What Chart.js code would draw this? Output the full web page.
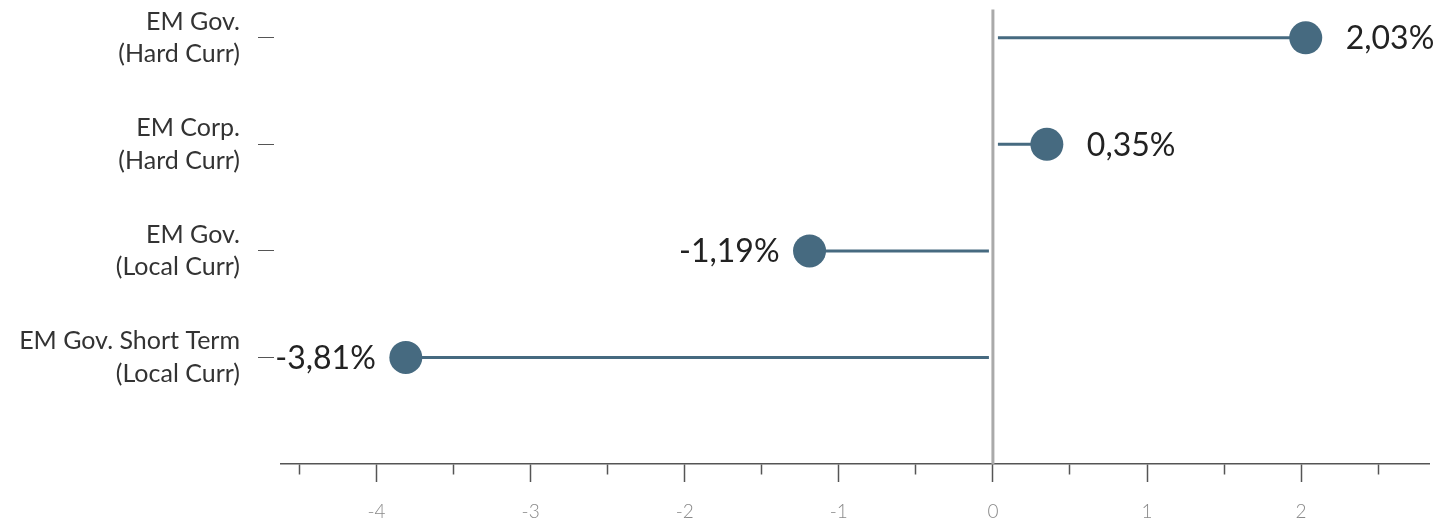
<!DOCTYPE html>
<html>
<head>
<meta charset="utf-8">
<script src="https://cdn.jsdelivr.net/npm/chart.js@4.4.1/dist/chart.umd.min.js"></script>
<style>
  html, body { margin: 0; padding: 0; background: #ffffff; }
  #wrap { position: relative; width: 1453px; height: 522px; }
  canvas { display: block; }
</style>
</head>
<body>
<div id="wrap"><canvas id="chart" width="1453" height="522"></canvas></div>
<script>
// Return by segment, in percent
const categories = [
  ['EM Gov.', '(Hard Curr)'],
  ['EM Corp.', '(Hard Curr)'],
  ['EM Gov.', '(Local Curr)'],
  ['EM Gov. Short Term', '(Local Curr)']
];
const returns = [2.03, 0.35, -1.19, -3.81];
const xTickValues = [-4.5, -4, -3.5, -3, -2.5, -2, -1.5, -1, -0.5, 0, 0.5, 1, 1.5, 2, 2.5];

const DOT = '#466a80';
const FONT = 'Lato, "Open Sans", sans-serif';
const ZERO_LINE_TOP = -0.265;   // zero line runs a little above the first row

const fmt = v => v.toFixed(2).replace('.', ',') + '%';

// Zero line, stems from it out to each dot, plus the value labels
const lollipop = {
  id: 'lollipop',
  beforeDatasetsDraw(chart) {
    const { ctx, chartArea, scales: { x, y } } = chart;
    const x0 = x.getPixelForValue(0);
    ctx.save();
    ctx.strokeStyle = '#aaaaaa';
    ctx.lineWidth = 3;
    ctx.beginPath();
    ctx.moveTo(x0, y.getPixelForValue(ZERO_LINE_TOP));
    ctx.lineTo(x0, chartArea.bottom);
    ctx.stroke();

    ctx.strokeStyle = DOT;
    ctx.lineWidth = 3;
    returns.forEach((v, i) => {
      const py = y.getPixelForValue(i);
      const px = x.getPixelForValue(v);
      const start = v >= 0 ? x0 + 5 : x0 - 4;
      ctx.beginPath();
      ctx.moveTo(start, py);
      ctx.lineTo(px, py);
      ctx.stroke();
    });
    ctx.restore();
  },
  afterDatasetsDraw(chart) {
    const { ctx, scales: { x, y } } = chart;
    ctx.save();
    ctx.font = '400 32px ' + FONT;
    ctx.fillStyle = '#222222';
    ctx.textBaseline = 'middle';
    returns.forEach((v, i) => {
      const py = y.getPixelForValue(i);
      const px = x.getPixelForValue(v);
      if (v >= 0) {
        ctx.textAlign = 'left';
        ctx.fillText(fmt(v), px + 40, py + 1);
      } else {
        ctx.textAlign = 'right';
        ctx.fillText(fmt(v), px - 30, py + 1);
      }
    });
    ctx.restore();
  }
};

new Chart(document.getElementById('chart'), {
  type: 'scatter',
  data: {
    datasets: [{
      data: returns.map((v, i) => ({ x: v, y: i })),
      backgroundColor: DOT,
      borderWidth: 0,
      pointRadius: 16.5,
      pointHoverRadius: 16.5
    }]
  },
  options: {
    responsive: false,
    animation: false,
    devicePixelRatio: 1,
    layout: { padding: { top: 4, right: 24, left: 0, bottom: 0 } },
    plugins: { legend: { display: false }, tooltip: { enabled: false } },
    scales: {
      x: {
        type: 'linear',
        min: -4.62,
        max: 2.83,
        afterBuildTicks: s => { s.ticks = xTickValues.map(v => ({ value: v })); },
        afterFit: s => { s.height = 58; s.paddingLeft = 0; s.paddingRight = 0; },
        border: { display: true, color: '#555555', width: 1.5 },
        grid: {
          drawOnChartArea: false,
          drawTicks: true,
          tickLength: 18,
          tickColor: '#555555',
          tickWidth: 1.5,
          tickBorderDash: c => Number.isInteger(c.tick.value) ? [] : [10, 30]
        },
        ticks: {
          autoSkip: false,
          maxRotation: 0,
          padding: 18,
          color: '#8a8a8a',
          font: { family: FONT, size: 19, weight: 300 },
          callback: v => Number.isInteger(v) ? String(v) : ''
        }
      },
      y: {
        type: 'linear',
        reverse: true,
        min: -0.2,
        max: 4,
        afterBuildTicks: s => { s.ticks = categories.map((c, i) => ({ value: i })); },
        afterFit: s => { s.width = 281; s.paddingTop = 0; s.paddingBottom = 0; },
        border: { display: false },
        grid: {
          drawOnChartArea: false,
          drawTicks: true,
          tickLength: 23,
          tickColor: '#555555',
          tickWidth: 1,
          tickBorderDash: [16, 40]
        },
        ticks: {
          autoSkip: false,
          padding: 18,
          color: '#333333',
          font: { family: FONT, size: 25, lineHeight: 1.3 },
          callback: v => categories[v]
        }
      }
    }
  },
  plugins: [lollipop]
});
</script>
</body>
</html>
